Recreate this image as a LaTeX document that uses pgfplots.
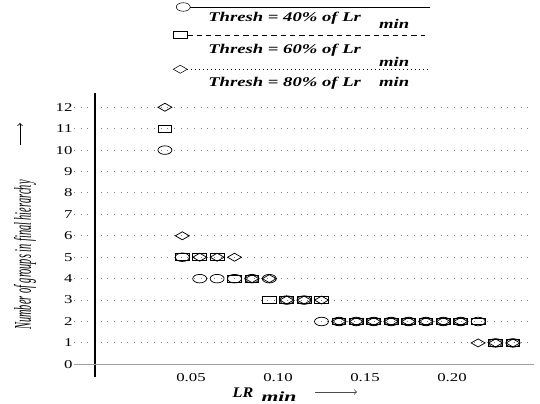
\documentclass[border=0pt]{standalone}
\usepackage{pgfplots}
\pgfplotsset{compat=1.18}
\usepackage{fontspec}
\setmainfont{Liberation Serif}
\newcommand\wide[1]{\scalebox{1.4}[1]{#1}}
\newcommand\bi[1]{\textbf{\textit{#1}}}
\newcommand\legtext[2]{\scalebox{1.4}[1]{\bi{Thresh = #1\% of Lr}}\hspace{13.5pt}\raisebox{#2}[0pt][0pt]{\scalebox{1.4}[1]{\bi{min}}}}
\pgfplotsset{
  legsolid/.style={legend image code/.code={
    \draw[overlay, solid, black, line width=0.6pt] (-13.5pt,8.2pt) -- (166.5pt,8.2pt);
    \draw[overlay, ##1] plot coordinates {(-18.75pt,8.2pt)};}},
  legdashed/.style={legend image code/.code={
    \draw[overlay, black, line width=0.6pt, dash pattern=on 4pt off 3pt] (-15.75pt,11.2pt) -- (162.75pt,11.2pt);
    \draw[overlay, ##1] plot coordinates {(-21pt,11.2pt)};}},
  legdotted/.style={legend image code/.code={
    \draw[overlay, black, line width=0.6pt, dash pattern=on 0.8pt off 2.2pt] (-15.75pt,10pt) -- (165pt,10pt);
    \draw[overlay, ##1] plot coordinates {(-21pt,10pt)};}},
}
\begin{document}
\begin{tikzpicture}
\path[use as bounding box] (0,0) rectangle (405pt,303pt);
\begin{axis}[
  at={(55.5pt,20.1pt)}, anchor=south west,
  scale only axis, width=345pt, height=212.9pt,
  xmin=-0.01724, xmax=0.2471, ymin=-0.6, ymax=12.65,
  axis line style={draw=none},
  major tick length=0pt,
  xtick={0.05,0.10,0.15,0.20},
  xticklabels={\wide{0.05},\wide{0.10},\wide{0.15},\wide{0.20}},
  ytick={1,2,3,4,5,6,7,8,9,10,11,12},
  yticklabels={\wide{1},\wide{2},\wide{3},\wide{4},\wide{5},\wide{6},\wide{7},\wide{8},\wide{9},\wide{10},\wide{11},\wide{12}},
  tick label style={font=\fontsize{9}{10}\selectfont},
  xticklabel style={anchor=center},
  yticklabel style={inner sep=1pt},
  ymajorgrids,
  major grid style={gray, line width=0.7pt, dash pattern=on 0.8pt off 4.2pt},
  extra y ticks={0},
  extra y tick labels={\wide{0}},
  extra y tick style={major grid style={solid, gray!75, line width=0.8pt}},
  extra x ticks={-0.0052},
  extra x tick labels={},
  extra x tick style={xmajorgrids=true, major grid style={solid, black, line width=0.9pt}},
  clip=false,
  legend style={at={(0.2913,1.2866)}, anchor=north west, draw=none, fill=none,
    inner sep=0pt, row sep=15.7pt, nodes={inner sep=0pt},
    font=\fontsize{10}{11}\selectfont},
  legend cell align=left,
  /tikz/every even column/.style={column sep=0pt},
]
\addplot[forget plot, only marks, mark=o, mark size=3.2pt, mark options={xscale=1.64, line width=0.55pt, black}]
coordinates {(0.035,10)(0.045,5)(0.055,4)(0.065,4)(0.075,4)(0.085,4)(0.095,4)(0.105,3)(0.115,3)(0.125,2)(0.135,2)(0.145,2)(0.155,2)(0.165,2)(0.175,2)(0.185,2)(0.195,2)(0.205,2)(0.215,2)(0.225,1)(0.235,1)};
\addplot[forget plot, only marks, mark=square, mark size=2.6pt, mark options={xscale=2.0, line width=0.7pt, black}]
coordinates {(0.035,11)(0.045,5)(0.055,5)(0.065,5)(0.075,4)(0.085,4)(0.095,3)(0.105,3)(0.115,3)(0.125,3)(0.135,2)(0.145,2)(0.155,2)(0.165,2)(0.175,2)(0.185,2)(0.195,2)(0.205,2)(0.215,2)(0.225,1)(0.235,1)};
\addplot[forget plot, only marks, mark=diamond, mark size=3pt, mark options={xscale=2.33, line width=0.55pt, black}]
coordinates {(0.035,12)(0.045,6)(0.055,5)(0.065,5)(0.075,5)(0.085,4)(0.095,4)(0.105,3)(0.115,3)(0.125,3)(0.135,2)(0.145,2)(0.155,2)(0.165,2)(0.175,2)(0.185,2)(0.195,2)(0.205,2)(0.215,1)(0.225,1)(0.235,1)};
\addlegendimage{legsolid, mark=o, mark size=3.2pt, mark options={xscale=1.64, solid, black}, black}
\addlegendentry{\legtext{40}{-5.5pt}}
\addlegendimage{legdashed, mark=square, mark size=2.6pt, mark options={xscale=2.0, solid, black, line width=0.7pt}, black}
\addlegendentry{\legtext{60}{-9.5pt}}
\addlegendimage{legdotted, mark=diamond, mark size=3pt, mark options={xscale=2.33, solid, black}, black}
\addlegendentry{\legtext{80}{-0.5pt}}
\end{axis}
% axis titles
\node[font=\fontsize{11}{11}\selectfont] at (182.25pt,8.6pt) {\scalebox{1.1}[1]{\bi{LR}}};
\node[font=\fontsize{10.5}{10.5}\selectfont] at (209.25pt,5.6pt) {\scalebox{1.55}[1]{\bi{min}}};
\draw[->, gray!60!black, line width=0.6pt] (236.25pt,9pt) -- (267.75pt,9pt);
\node[rotate=90, font=\fontsize{18}{18}\selectfont] at (18.75pt,111.75pt) {\scalebox{0.43}[1]{\itshape Number of groups in final hierarchy}};
\draw[->, black, line width=0.6pt] (15pt,194.25pt) -- (15pt,210.75pt);
\end{tikzpicture}
\end{document}
